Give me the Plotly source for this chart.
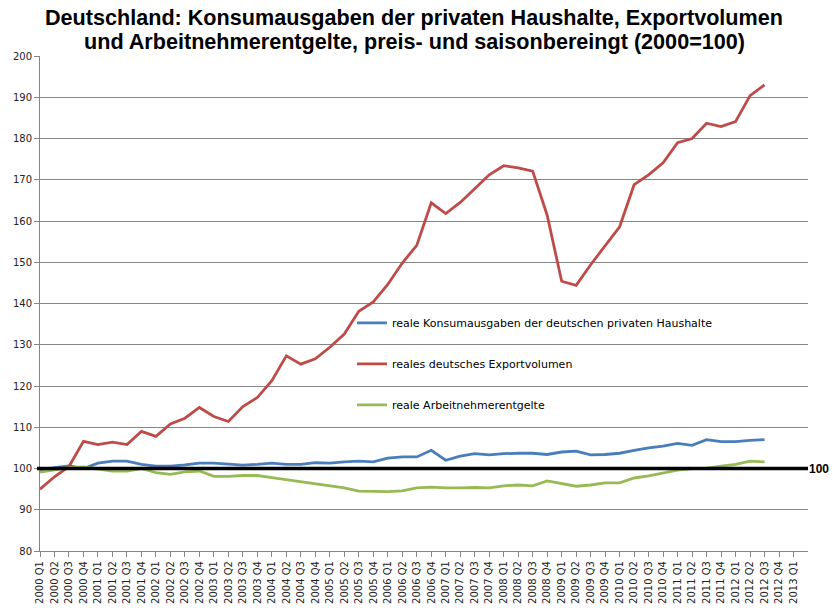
import plotly.graph_objects as go

quarters = [f"{y} Q{q}" for y in range(2000, 2013) for q in range(1, 5)] + ["2013 Q1"]

konsum = [99.4, 100.2, 100.6, 100.0, 101.3, 101.8, 101.8, 101.0, 100.6, 100.6,
          100.9, 101.3, 101.3, 101.0, 100.8, 101.0, 101.3, 101.0, 101.0, 101.4,
          101.3, 101.6, 101.8, 101.6, 102.5, 102.8, 102.8, 104.4, 102.0, 103.0,
          103.6, 103.3, 103.6, 103.7, 103.7, 103.4, 104.0, 104.2, 103.3, 103.4,
          103.7, 104.4, 105.0, 105.4, 106.1, 105.6, 107.0, 106.5, 106.5, 106.8,
          107.0]

export = [95.0, 98.0, 100.5, 106.6, 105.8, 106.4, 105.8, 109.0, 107.8, 110.8,
          112.2, 114.8, 112.6, 111.4, 115.0, 117.2, 121.3, 127.3, 125.3, 126.6,
          129.4, 132.6, 138.1, 140.4, 144.6, 149.8, 154.1, 164.4, 161.8, 164.5,
          167.8, 171.2, 173.4, 172.9, 172.1, 161.4, 145.4, 144.4, 149.4, 154.1,
          158.6, 168.8, 171.2, 174.1, 179.0, 180.0, 183.7, 182.9, 184.1, 190.4,
          193.0]

arbeit = [99.1, 99.6, 100.2, 100.4, 99.9, 99.4, 99.4, 100.0, 99.0, 98.6,
          99.2, 99.4, 98.1, 98.1, 98.3, 98.3, 97.8, 97.3, 96.8, 96.4,
          95.8, 95.3, 94.5, 94.4, 94.4, 94.6, 95.3, 95.5, 95.3, 95.3,
          95.4, 95.3, 95.8, 96.0, 95.8, 97.0, 96.4, 95.7, 96.0, 96.5,
          96.5, 97.7, 98.2, 98.9, 99.6, 100.0, 100.1, 100.6, 101.0, 101.8,
          101.6]

series_names = ["reale Konsumausgaben der deutschen privaten Haushalte",
                "reales deutsches Exportvolumen",
                "reale Arbeitnehmerentgelte"]
series_colors = ["#4A7EBB", "#BE4B48", "#98B954"]
y_ticks = list(range(80, 201, 10))
title_lines = ["Deutschland: Konsumausgaben der privaten Haushalte, Exportvolumen",
               "und Arbeitnehmerentgelte, preis- und saisonbereingt (2000=100)"]

W, H = 833, 616
PL, PR, PT, PB = 40, 808, 56, 556  # plot area in pixels
pw, ph = PR - PL, PB - PT

fig = go.Figure()
for i, (name, vals, col) in enumerate(zip(series_names, [konsum, export, arbeit], series_colors)):
    fig.add_trace(go.Scatter(
        x=quarters[:len(vals)], y=vals, mode="lines", name=name,
        line=dict(color=col, width=2.8), legendgroup=f"g{i}",
    ))

fig.add_shape(type="line", xref="paper", yref="y", x0=-3 / pw, x1=1.0, y0=100, y1=100,
              line=dict(color="black", width=3.5), layer="above")
fig.add_annotation(xref="paper", yref="y", x=(830 - PL) / pw, y=100, text="<b>100</b>", showarrow=False,
                   xanchor="right", yanchor="middle", borderpad=0,
                   font=dict(family="Liberation Sans", size=12, color="black"))

title_font = dict(family="Liberation Sans", size=21.6, color="black")
for line, py in zip(title_lines, [17, 41]):
    fig.add_annotation(xref="paper", yref="paper", x=(414 - PL) / pw, y=(PB - py) / ph,
                       text=f"<b>{line}</b>", showarrow=False,
                       xanchor="center", yanchor="middle", font=title_font)

fig.update_layout(
    width=W, height=H,
    margin=dict(l=PL, r=W - PR, t=PT, b=H - PB, pad=0),
    paper_bgcolor="white", plot_bgcolor="white",
    showlegend=True,
    legend=dict(
        x=(352 - PL) / pw, y=(PB - 311) / ph, xanchor="left", yanchor="top",
        bgcolor="rgba(0,0,0,0)", tracegroupgap=22,
        font=dict(family="DejaVu Sans", size=11, color="black"),
        itemwidth=30,
    ),
    xaxis=dict(
        type="category", categoryorder="array", categoryarray=quarters,
        range=[0, 53],
        tickmode="array", tickvals=quarters, ticktext=quarters,
        tickangle=-90, tickfont=dict(family="DejaVu Sans", size=10, color="#222222"),
        showgrid=False, showline=True, linecolor="#868686", linewidth=1,
        ticks="outside", ticklen=5, tickcolor="#868686",
        zeroline=False,
    ),
    yaxis=dict(
        range=[80, 200], tickmode="array", tickvals=y_ticks,
        tickfont=dict(family="DejaVu Sans", size=10, color="#222222"),
        showgrid=True, gridcolor="#868686", gridwidth=1,
        showline=True, linecolor="#868686", linewidth=1,
        ticks="outside", ticklen=5, tickcolor="#868686",
        zeroline=False,
    ),
)

fig.write_html(
    "out.html",
    config={"displayModeBar": False},
    post_script="document.documentElement.style.margin='0';document.body.style.margin='0';"
                "document.body.style.overflow='hidden';",
)
